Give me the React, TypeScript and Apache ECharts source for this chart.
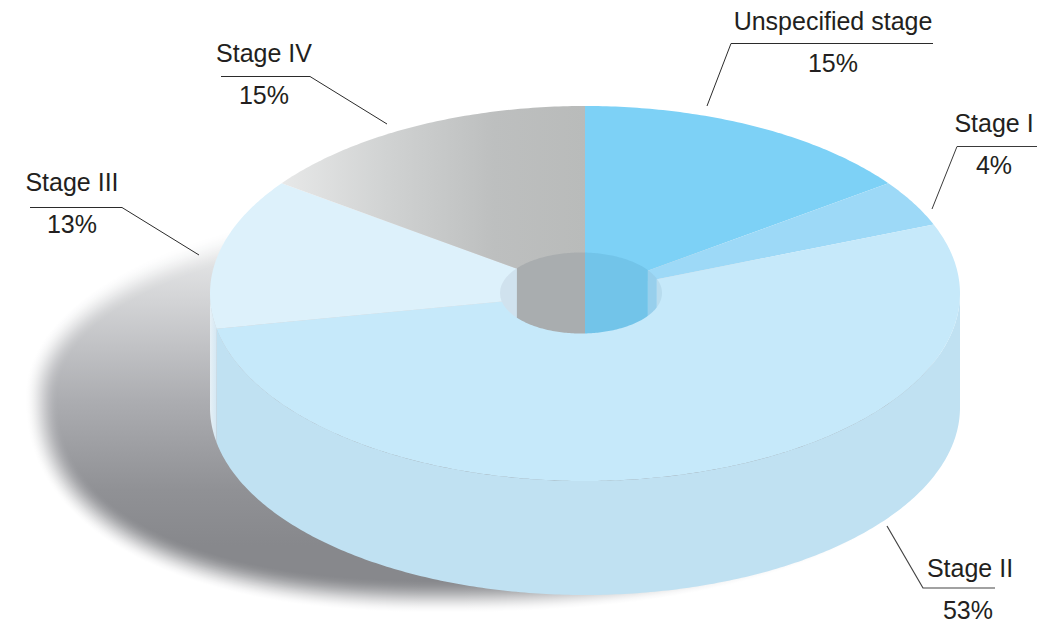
import React, { useEffect, useRef } from "react";
import * as echarts from "echarts";

const categories = ["Unspecified stage", "Stage I", "Stage II", "Stage III", "Stage IV"];
const shares = [15, 4, 53, 13, 15];

const W = 1037;
const H = 626;
const TOP = { cx: 585, cy: 293.5, rx: 375, ry: 187.5, depth: 114 };
const HOLE = { cx: 581, cy: 293, rx: 81, ry: 40.5 };
const FONT = "'Liberation Sans', Arial, sans-serif";
const INK = "#231f20";

const grey = (x0: number, x1: number) =>
  new echarts.graphic.LinearGradient(x0, 0, x1, 0, [
    { offset: 0, color: "#e7e8e8" },
    { offset: 0.35, color: "#d0d2d2" },
    { offset: 0.7, color: "#bdbfbf" },
    { offset: 1, color: "#b9bbba" },
  ], true);

const topFill: any[] = ["#7dd1f6", "#9dd9f7", "#c6e9fa", "#ddf1fb", grey(282, 585)];
const holeFill = ["#72c4e9", "#97cfec", "#b8dcee", "#d0e2ee", "#a9adaf"];
const wallFill: any[] = [
  "#7dc6e8",
  "#95cfec",
  "#c0e1f2",
  new echarts.graphic.LinearGradient(210, 0, 217, 0, [
    { offset: 0, color: "#e6f0f6" },
    { offset: 1, color: "#d3e7f3" },
  ], true),
  "#c9cbcb",
];

// Leader and text placement for each category, in the same order as categories.
const labelLayout = [
  { nameX: 833, nameY: 21, valueX: 833, valueY: 63, line: [[707, 106], [731, 43.5], [933, 43.5]], stroke: "#2b2b2b", width: 1 },
  { nameX: 994, nameY: 123, valueX: 994, valueY: 165, line: [[932, 209], [957, 146.5], [1037, 146.5]], stroke: "#3a3a3a", width: 1 },
  { nameX: 970, nameY: 568, valueX: 968, valueY: 610, line: [[887, 526], [923, 588], [995, 588]], stroke: "#444444", width: 1.2 },
  { nameX: 72, nameY: 182, valueX: 72, valueY: 224, line: [[199, 255], [122, 207.5], [30, 207.5]], stroke: "#2b2b2b", width: 1 },
  { nameX: 264, nameY: 53, valueX: 264, valueY: 95, line: [[387, 124], [310, 76.5], [221, 76.5]], stroke: "#2b2b2b", width: 1 },
];

const total = shares.reduce((a, b) => a + b, 0);
const cuts: number[] = [0];
shares.forEach((v, i) => cuts.push(cuts[i] + (v / total) * 360));

const rad = (d: number) => (d * Math.PI) / 180;
const rim = (deg: number, dy = 0): number[] => [
  TOP.cx + TOP.rx * Math.sin(rad(deg)),
  TOP.cy - TOP.ry * Math.cos(rad(deg)) + dy,
];

function arcPoints(a0: number, a1: number, dy = 0) {
  const n = Math.max(2, Math.ceil(Math.abs(a1 - a0) * 1.5));
  const pts: number[][] = [];
  for (let i = 0; i <= n; i++) pts.push(rim(a0 + ((a1 - a0) * i) / n, dy));
  return pts;
}

// Where the radial cut at deg meets the hole's edge, as an x position.
function holeCutX(deg: number) {
  if (Math.cos(rad(deg)) <= 0) return Math.sin(rad(deg)) > 0 ? HOLE.cx + HOLE.rx : HOLE.cx - HOLE.rx;
  const dx = TOP.rx * Math.sin(rad(deg));
  const dy = -TOP.ry * Math.cos(rad(deg));
  const off = TOP.cx - HOLE.cx;
  const A = (dx * dx) / (HOLE.rx * HOLE.rx) + (dy * dy) / (HOLE.ry * HOLE.ry);
  const B = (2 * off * dx) / (HOLE.rx * HOLE.rx);
  const C = (off * off) / (HOLE.rx * HOLE.rx) - 1;
  const s = (-B + Math.sqrt(B * B - 4 * A * C)) / (2 * A);
  return TOP.cx + s * dx;
}

function holeStrip(x0: number, x1: number) {
  const n = 40;
  const upper: number[][] = [];
  const lower: number[][] = [];
  for (let i = 0; i <= n; i++) {
    const x = x0 + ((x1 - x0) * i) / n;
    const u = (x - HOLE.cx) / HOLE.rx;
    const h = HOLE.ry * Math.sqrt(Math.max(0, 1 - u * u));
    upper.push([x, HOLE.cy - h]);
    lower.unshift([x, HOLE.cy + h]);
  }
  return upper.concat(lower);
}

const shadowStops = [
  { y: 255, c: [228, 229, 230] },
  { y: 300, c: [211, 212, 214] },
  { y: 400, c: [172, 173, 177] },
  { y: 490, c: [144, 145, 149] },
  { y: 545, c: [135, 136, 140] },
  { y: 615, c: [135, 136, 140] },
];

function shadowLayers() {
  const cx = 440, cy = 395;
  const rxLeft = 416, rxRight = 516, ryTop = 192, ryBottom = 219;
  const steps = 34;
  const out: any[] = [];
  const yMin = shadowStops[0].y;
  const yMax = shadowStops[shadowStops.length - 1].y;
  for (let i = 0; i <= steps; i++) {
    const t = i / steps;
    const f = t * t * (3 - 2 * t);
    const mix = (c: number[]) =>
      `rgb(${c.map((v) => Math.round(255 + (v - 255) * f)).join(",")})`;
    const points: number[][] = [];
    for (let k = 0; k < 240; k++) {
      const a = (k / 240) * Math.PI * 2;
      const s = Math.sin(a);
      const c = Math.cos(a);
      const lower = c < 0;
      const e = lower ? 2 / 2.3 : 1;
      const rx = (s < 0 ? rxLeft : rxRight) - i;
      const ry = (lower ? ryBottom : ryTop) - i;
      points.push([
        cx + rx * Math.sign(s) * Math.pow(Math.abs(s), e),
        cy - ry * Math.sign(c) * Math.pow(Math.abs(c), e),
      ]);
    }
    out.push({
      type: "polygon",
      shape: { points },
      style: {
        fill: new echarts.graphic.LinearGradient(
          0, yMin, 0, yMax,
          shadowStops.map((s) => ({ offset: (s.y - yMin) / (yMax - yMin), color: mix(s.c) })),
          true
        ),
      },
    });
  }
  return out;
}

export default function App() {
  const ref = useRef<HTMLDivElement>(null);
  useEffect(() => {
    if (!ref.current) return;
    const chart = echarts.init(ref.current, undefined, { renderer: "svg" });
    const rows = categories.map((name, i) => ({ name, value: [i, shares[i]] }));
    chart.setOption({
      animation: false,
      backgroundColor: "#ffffff",
      series: [
        {
          type: "custom",
          coordinateSystem: "none",
          silent: true,
          data: [0],
          renderItem: () => ({ type: "group", children: shadowLayers() }),
        },
        {
          type: "custom",
          coordinateSystem: "none",
          silent: true,
          data: rows,
          renderItem: (p: any) => {
            const i = p.dataIndex;
            const a0 = cuts[i], a1 = cuts[i + 1];
            const kids: any[] = [];
            const w0 = Math.max(a0, 90), w1 = Math.min(a1, 270);
            if (w1 > w0) {
              kids.push({
                type: "polygon",
                shape: { points: arcPoints(w0, w1).concat(arcPoints(w1, w0, TOP.depth)) },
                style: { fill: wallFill[i] },
              });
            }
            kids.push({
              type: "polygon",
              shape: { points: [[TOP.cx, TOP.cy] as number[]].concat(arcPoints(a0, a1)) },
              style: { fill: topFill[i] },
            });
            return { type: "group", children: kids };
          },
        },
        {
          type: "custom",
          coordinateSystem: "none",
          silent: true,
          data: rows,
          renderItem: (p: any) => {
            const i = p.dataIndex;
            const a0 = cuts[i], a1 = cuts[i + 1];
            let x0 = a0 === 0 ? TOP.cx : holeCutX(a0);
            let x1 = holeCutX(a1 >= 360 ? 0 : a1);
            if (a1 >= 360) x1 = TOP.cx;
            if (a0 < 90 && a1 > 180) x1 = HOLE.cx + HOLE.rx;
            return {
              type: "polygon",
              shape: { points: holeStrip(x0, x1) },
              style: { fill: holeFill[i] },
            };
          },
        },
        {
          type: "custom",
          coordinateSystem: "none",
          silent: true,
          data: rows,
          renderItem: (p: any) => {
            const i = p.dataIndex;
            const l = labelLayout[i];
            const text = (t: string, x: number, y: number) => ({
              type: "text",
              style: {
                text: t, x, y, fill: INK, font: `25px ${FONT}`,
                textAlign: "center", textVerticalAlign: "middle",
              },
            });
            return {
              type: "group",
              children: [
                {
                  type: "polyline",
                  shape: { points: l.line },
                  style: { fill: "none", stroke: l.stroke, lineWidth: l.width },
                },
                text(categories[i], l.nameX, l.nameY),
                text(`${shares[i]}%`, l.valueX, l.valueY),
              ],
            };
          },
        },
      ],
    });
    return () => chart.dispose();
  }, []);
  return (
    <div
      ref={ref}
      style={{ position: "absolute", left: 0, top: 0, width: W, height: H, background: "#fff" }}
    />
  );
}
